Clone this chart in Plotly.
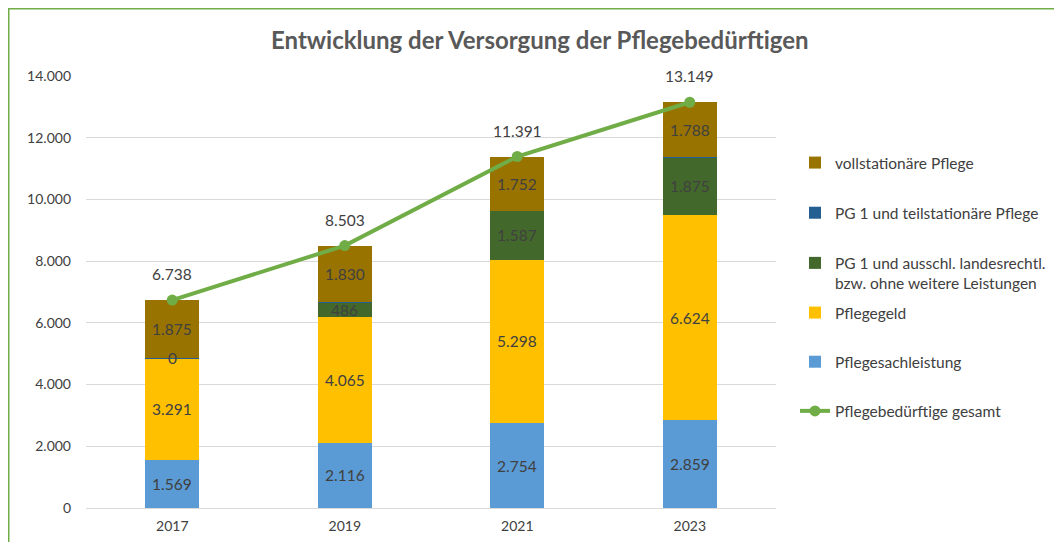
import plotly.graph_objects as go

years = ["2017", "2019", "2021", "2023"]
sachleistung = [1569, 2116, 2754, 2859]
pflegegeld = [3291, 4065, 5298, 6624]
pg1_landesrechtl = [0, 486, 1587, 1875]
pg1_teilstationaer = [3, 6, 0, 3]
vollstationaer = [1875, 1830, 1752, 1788]
gesamt = [6738, 8503, 11391, 13149]

names = {
    "sach": "Pflegesachleistung",
    "geld": "Pflegegeld",
    "land": "PG 1 und ausschl. landesrechtl.<br>bzw. ohne weitere Leistungen",
    "teil": "PG 1 und teilstationäre Pflege",
    "voll": "vollstationäre Pflege",
    "ges": "Pflegebedürftige gesamt",
}
colors = {
    "sach": "#5B9BD5",
    "geld": "#FFC000",
    "land": "#43682B",
    "teil": "#255E91",
    "voll": "#997300",
    "ges": "#70AD47",
}

FONT = "Lato"
TXT = "#404040"

# figure geometry (page body has an 8px margin)
W, H = 1054, 534
L, R, T, B = 78, 286, 68, 34
PW, PH = W - L - R, H - T - B

def px_x(px):
    return (px - L) / PW

def px_y(py):
    return (H - B - py) / PH

def de(v):
    return f"{v:,}".replace(",", ".")

series = [
    ("sach", sachleistung, True, 5, "legend2"),
    ("geld", pflegegeld, True, 4, "legend2"),
    ("land", pg1_landesrechtl, True, 3, "legend"),
    ("teil", pg1_teilstationaer, False, 2, "legend"),
    ("voll", vollstationaer, True, 1, "legend"),
]

fig = go.Figure()
annotations = []
base = [0] * len(years)
for key, vals, labelled, rank, leg in series:
    fig.add_trace(go.Bar(
        x=years, y=vals, name=names[key],
        marker=dict(color=colors[key], line=dict(width=0)),
        legendrank=rank, legendgroup=key, legend=leg,
    ))
    if labelled:
        for i, v in enumerate(vals):
            annotations.append(dict(
                x=i, y=base[i] + v / 2, xref="x", yref="y",
                text=de(v), showarrow=False,
                font=dict(family=FONT, size=15.5, color=TXT),
            ))
    base = [b + v for b, v in zip(base, vals)]

fig.add_trace(go.Scatter(
    x=years, y=gesamt, name=names["ges"], mode="lines+markers",
    line=dict(color=colors["ges"], width=4),
    marker=dict(color=colors["ges"], size=11),
    legendrank=6, legendgroup="ges", legend="legend2",
))
for i, v in enumerate(gesamt):
    annotations.append(dict(
        x=i, y=v, xref="x", yref="y", yshift=26,
        text=de(v), showarrow=False,
        font=dict(family=FONT, size=15.5, color=TXT),
    ))

annotations.append(dict(
    x=px_x(532), y=px_y(31), xref="paper", yref="paper",
    xanchor="center", yanchor="middle",
    text="<b>Entwicklung der Versorgung der Pflegebedürftigen</b>", showarrow=False,
    font=dict(family=FONT, size=24, color="#595959"),
))

legfont = dict(family=FONT, size=15.5, color=TXT)
fig.update_layout(
    width=W, height=H,
    margin=dict(l=L, r=R, t=T, b=B, autoexpand=False),
    paper_bgcolor="white", plot_bgcolor="white",
    barmode="stack", bargap=0.687,
    separators=",.",
    font=dict(family=FONT, size=14, color=TXT),
    showlegend=True,
    legend=dict(
        x=px_x(787), xanchor="left", y=px_y(138), yanchor="top",
        font=legfont, valign="top",
        tracegroupgap=27, itemwidth=30, bgcolor="rgba(0,0,0,0)",
    ),
    legend2=dict(
        x=px_x(787), xanchor="left", y=px_y(288), yanchor="top",
        font=legfont, valign="top",
        tracegroupgap=26, itemwidth=30, bgcolor="rgba(0,0,0,0)",
    ),
    annotations=annotations,
    shapes=[dict(
        type="rect", xref="paper", yref="paper",
        x0=px_x(0.75), x1=px_x(1070),
        y0=px_y(560), y1=px_y(0.75),
        line=dict(color="#70AD47", width=1.5), fillcolor="rgba(0,0,0,0)",
        layer="below",
    )],
)
fig.update_xaxes(
    type="category", range=[-0.5, 3.5], automargin=False,
    showgrid=False, showline=True, linecolor="#D9D9D9", linewidth=1,
    tickfont=dict(family=FONT, size=14, color=TXT), ticks="", ticklabelstandoff=5,
)
fig.update_yaxes(
    range=[0, 14000], dtick=2000, tickformat=",d", automargin=False,
    showgrid=True, gridcolor="#D9D9D9", gridwidth=1,
    zeroline=False, showline=False, ticks="", ticklabelstandoff=14,
    tickfont=dict(family=FONT, size=14, color=TXT),
)

fig.write_html("out.html")
